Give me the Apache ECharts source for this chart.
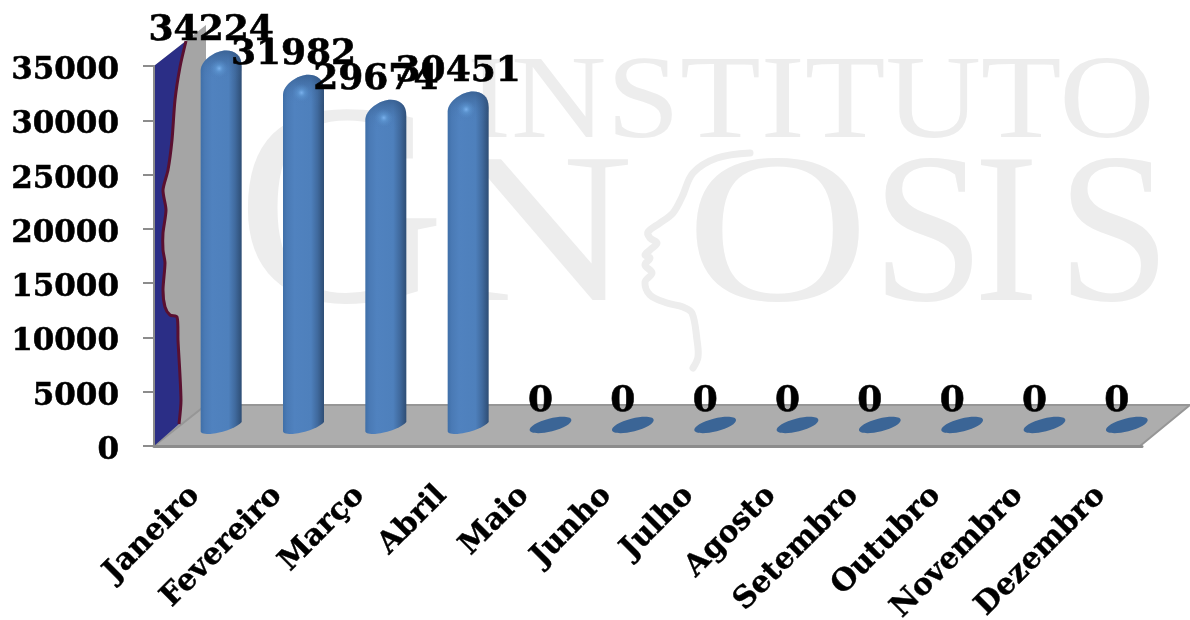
<!DOCTYPE html>
<html><head><meta charset="utf-8">
<style>html,body{margin:0;padding:0;background:#fff}#c{width:1190px;height:620px}</style>
<script src="https://cdn.jsdelivr.net/npm/echarts@6/dist/echarts.min.js"></script>
</head><body><div id="c"></div>
<script>
const categories = ['Janeiro','Fevereiro','Março','Abril','Maio','Junho','Julho','Agosto','Setembro','Outubro','Novembro','Dezembro'];
const values = [34224,31982,29674,30451,0,0,0,0,0,0,0,0];
const axisMax = 35000, axisStep = 5000;
const FONT = '"DejaVu Serif"';
const wm = '#ededed';
const chart = echarts.init(document.getElementById('c'));

function renderCyl(params, api){
  const c = api.coord([api.value(0), api.value(1)]);
  const b = api.coord([api.value(0), 0]);
  const cx=c[0], vy=c[1], by=b[1], l=cx-20.5, r=cx+20.5;
  const kids=[];
  if(api.value(1)>0){
    const d=`M${l} ${vy+9}C${l} ${vy-1} ${cx-6} ${vy-11} ${cx+5} ${vy-11}C${cx+14} ${vy-11} ${r} ${vy-6} ${r} ${vy+5}L${r} ${by-11}C${r-7} ${by-3} ${cx-6} ${by+1} ${cx-12} ${by+1}C${l+2} ${by+1} ${l} ${by} ${l} ${by-2}Z`;
    kids.push({type:'path',shape:{pathData:d},style:{fill:new echarts.graphic.LinearGradient(0,0,1,0,[
      {offset:0,color:'#3f6fa8'},{offset:.1,color:'#4a7ab5'},{offset:.28,color:'#5082bf'},{offset:.68,color:'#4e80bc'},{offset:.84,color:'#406a9e'},{offset:1,color:'#2e4d74'}])}});
    const dome=`M${l} ${vy+9}C${l} ${vy-1} ${cx-6} ${vy-11} ${cx+5} ${vy-11}C${cx+14} ${vy-11} ${r} ${vy-6} ${r} ${vy+5}L${r} ${vy+20}L${l} ${vy+20}Z`;
    kids.push({type:'path',shape:{pathData:dome},style:{fill:new echarts.graphic.LinearGradient(0,0,0,1,[
      {offset:0,color:'rgba(45,80,125,0.6)'},{offset:.55,color:'rgba(60,100,150,0.12)'},{offset:1,color:'rgba(79,129,189,0)'}])}});
    kids.push({type:'ellipse',shape:{cx:cx-2,cy:vy+7,rx:13,ry:9},style:{fill:new echarts.graphic.RadialGradient(.5,.5,.5,[
      {offset:0,color:'rgba(125,180,240,0.95)'},{offset:.4,color:'rgba(100,160,220,0.5)'},{offset:1,color:'rgba(90,145,205,0)'}])}});
  } else {
    kids.push({type:'ellipse',shape:{cx:cx,cy:by-8,rx:21.5,ry:6.4},rotation:0.25,originX:cx,originY:by-8,style:{fill:'#3b6596'}});
  }
  kids.push({type:'text',z2:100,style:{text:String(api.value(1)),x:cx-10,y:vy-31,align:'center',verticalAlign:'middle',fontFamily:FONT,fontWeight:'bold',fontSize:36,fill:'#000',stroke:'#000',lineWidth:.6}});
  return {type:'group',children:kids};
}

const wallEdge = [[186,41],[180,67],[175,100],[172,140],[168,170],[163,190],[166,210],[163,233],[163,250],[165,263],[163,290],[165,307],[170,315],[177,317],[178,340],[181,400],[179,424]];
function renderBackdrop(){
  return {type:'group',children:[
    {type:'polyline',shape:{smooth:.35,points:[[750,153],[717,158],[693,173],[682,197],[673,213],[660,223],[648,232],[650,238],[657,243],[650,250],[645,255],[650,258],[645,265],[652,273],[645,282],[650,295],[667,303],[683,307],[692,313],[697,340],[698,357],[693,368]]},style:{stroke:wm,fill:null,lineWidth:7,lineCap:'round',lineJoin:'round'}},
    {type:'polygon',shape:{points:[[154,446],[154,66],[206,25],[206,405]]},style:{fill:'#a5a5a5'}},
    {type:'polygon',shape:{points:[[154,446],[206,405],[1190,405],[1140,446]]},style:{fill:'#adadad',stroke:'#969696',lineWidth:2}},
    {type:'polygon',shape:{points:[[154,446],[154,66]].concat(wallEdge)},style:{fill:'#2b2e86'}},
    {type:'polyline',shape:{smooth:.25,points:wallEdge},style:{fill:null,stroke:'#5a1030',lineWidth:3,lineJoin:'round'}}
  ]};
}

const watermarkGlyphs = [
  ['INSTITUTO',467,165,118,1.12],
  ['G',236,370,290,1],
  ['N',440,351,215,1.25],
  ['O',686,351,215,1.18],
  ['S',872,351,215,.94],
  ['I',974,351,215,.9],
  ['S',1057,351,215,.95]
];

chart.setOption({
  animation:false,
  backgroundColor:'#fff',
  grid:[
    {left:154,top:66,width:988,height:380,outerBoundsMode:'none'},
    {left:180,top:53,width:988,height:380,outerBoundsMode:'none'},
    {left:154,top:71,width:988,height:380,outerBoundsMode:'none'}
  ],
  xAxis:[
    {type:'category',gridIndex:0,z:6,data:categories,axisTick:{show:false},axisLine:{lineStyle:{color:'#8c8c8c',width:3}},
     axisLabel:{rotate:45,interval:0,margin:45,fontFamily:FONT,fontWeight:'bold',fontSize:30,color:'#000',textBorderColor:'#000',textBorderWidth:.4},splitLine:{show:false}},
    {type:'category',gridIndex:1,data:categories,show:false},
    {type:'category',gridIndex:2,data:categories,show:false}
  ],
  yAxis:[
    {type:'value',gridIndex:0,z:6,min:0,max:axisMax,interval:axisStep,splitLine:{show:false},
     axisLine:{show:true,lineStyle:{color:'#8c8c8c',width:2}},axisTick:{show:true,length:11,lineStyle:{color:'#8c8c8c',width:2}},
     axisLabel:{show:false}},
    {type:'value',gridIndex:1,min:0,max:axisMax,interval:axisStep,show:false},
    {type:'value',gridIndex:2,z:6,min:0,max:axisMax,interval:axisStep,splitLine:{show:false},axisLine:{show:false},axisTick:{show:false},
     axisLabel:{margin:35,formatter:v=>String(v),fontFamily:FONT,fontWeight:'bold',fontSize:31,color:'#000',textBorderColor:'#000',textBorderWidth:.5}}
  ],
  graphic:watermarkGlyphs.map(g=>({type:'text',z:0,silent:true,x:g[1],y:g[2],scaleX:g[4],originX:0,originY:0,
    style:{text:g[0],x:0,y:0,verticalAlign:'bottom',font:g[3]+'px "Liberation Serif"',fill:wm}})),
  series:[
   {type:'custom',coordinateSystem:'none',z:5,clip:false,silent:true,data:[[0]],renderItem:renderBackdrop},
   {type:'custom',coordinateSystem:'cartesian2d',xAxisIndex:1,yAxisIndex:1,z:10,clip:false,
    data:categories.map((c,i)=>[i,values[i]]),renderItem:renderCyl,encode:{x:0,y:1}}]
});
</script></body></html>
